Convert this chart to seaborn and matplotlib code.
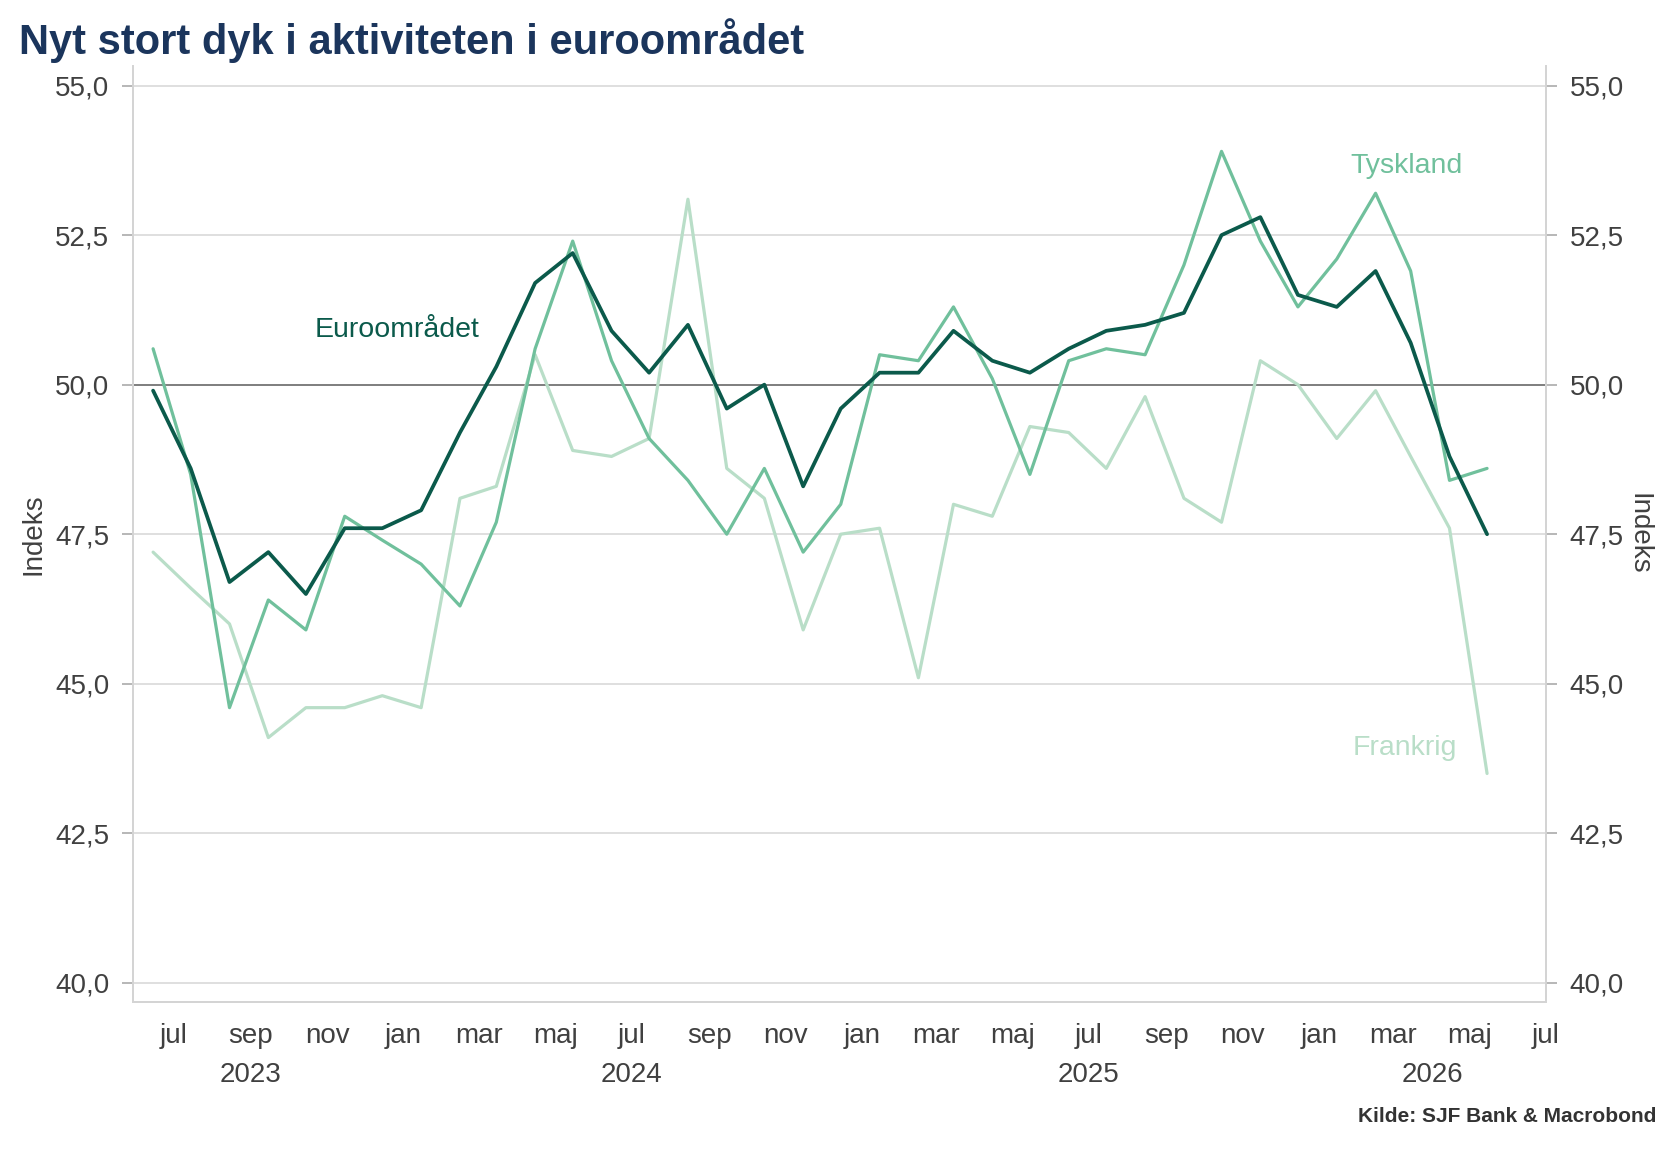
import pandas as pd
import numpy as np
import matplotlib
matplotlib.use("Agg")
import matplotlib.pyplot as plt
import matplotlib.dates as mdates
from matplotlib.ticker import FuncFormatter, FixedLocator
import seaborn as sns

# monthly PMI readings, jun 2023 - maj 2026 (plotted mid-month)
months = pd.date_range("2023-06-01", "2026-05-01", freq="MS") + pd.Timedelta(days=14)

euro = [49.9, 48.6, 46.7, 47.2, 46.5, 47.6, 47.6,
        47.9, 49.2, 50.3, 51.7, 52.2, 50.9, 50.2, 51.0, 49.6, 50.0, 48.3, 49.6,
        50.2, 50.2, 50.9, 50.4, 50.2, 50.6, 50.9, 51.0, 51.2, 52.5, 52.8, 51.5,
        51.3, 51.9, 50.7, 48.8, 47.5]
tyskland = [50.6, 48.5, 44.6, 46.4, 45.9, 47.8, 47.4,
            47.0, 46.3, 47.7, 50.6, 52.4, 50.4, 49.1, 48.4, 47.5, 48.6, 47.2, 48.0,
            50.5, 50.4, 51.3, 50.1, 48.5, 50.4, 50.6, 50.5, 52.0, 53.9, 52.4, 51.3,
            52.1, 53.2, 51.9, 48.4, 48.6]
frankrig = [47.2, 46.6, 46.0, 44.1, 44.6, 44.6, 44.8,
            44.6, 48.1, 48.3, 50.5, 48.9, 48.8, 49.1, 53.1, 48.6, 48.1, 45.9, 47.5,
            47.6, 45.1, 48.0, 47.8, 49.3, 49.2, 48.6, 49.8, 48.1, 47.7, 50.4, 50.0,
            49.1, 49.9, 48.8, 47.6, 43.5]

series_names = ["Euroområdet", "Tyskland", "Frankrig"]
colors = {"Euroområdet": "#0b5a4b", "Tyskland": "#70c09c", "Frankrig": "#b9dec8"}
widths = {"Euroområdet": 2.7, "Tyskland": 2.3, "Frankrig": 2.3}

month_names = {1: "jan", 3: "mar", 5: "maj", 7: "jul", 9: "sep", 11: "nov"}
year_labels = ["2023", "2024", "2025", "2026"]
year_pos = ["2023-09-01", "2024-07-01", "2025-07-01", "2026-04-01"]
yticks = [40.0, 42.5, 45.0, 47.5, 50.0, 52.5, 55.0]

df = pd.DataFrame({"dato": np.tile(months, 3),
                   "værdi": euro + tyskland + frankrig,
                   "serie": np.repeat(series_names, len(months))})

sns.set_style("white")
plt.rcParams["font.family"] = ["Liberation Sans", "DejaVu Sans"]

fig = plt.figure(figsize=(16.8, 11.55), dpi=100)
ax = fig.add_axes([0.0792, 0.1325, 0.841, 0.8105])

for y in yticks:
    ax.axhline(y, color="#dcdcdc", lw=1.3, zorder=0)
ax.axhline(50, color="#7f7f7f", lw=1.4, zorder=1)

# draw lighter series first so the euro line sits on top
for name in ["Frankrig", "Tyskland", "Euroområdet"]:
    sns.lineplot(data=df[df["serie"] == name], x="dato", y="værdi",
                 color=colors[name], lw=widths[name], ax=ax, legend=False,
                 zorder=3)

ax.set_xlim(pd.Timestamp("2023-05-30"), pd.Timestamp("2026-07-01"))
ax.set_ylim(39.68, 55.33)

ax.xaxis.set_major_locator(mdates.MonthLocator(bymonth=[1, 3, 5, 7, 9, 11]))
ax.xaxis.set_major_formatter(FuncFormatter(
    lambda v, p: month_names.get(mdates.num2date(v).month, "")))
ax.xaxis.set_minor_locator(mdates.MonthLocator(bymonth=[1]))
ax.tick_params(axis="x", which="major", length=4, width=1.2, color="#555555",
               labelsize=20, labelcolor="#404040", pad=11)
ax.tick_params(axis="x", which="minor", length=10, width=1.2, color="#555555")

ax.yaxis.set_major_locator(FixedLocator(yticks))
fmt = FuncFormatter(lambda v, p: f"{v:.1f}".replace(".", ","))
ax.yaxis.set_major_formatter(fmt)
ax.tick_params(axis="y", length=8, width=1.2, color="#aaaaaa",
               labelsize=20, labelcolor="#404040", pad=9)
ax.set_xlabel("")
ax.set_ylabel("Indeks", fontsize=20, color="#404040", labelpad=6)

ax2 = ax.twinx()
ax2.set_ylim(ax.get_ylim())
ax2.yaxis.set_major_locator(FixedLocator(yticks))
ax2.yaxis.set_major_formatter(fmt)
ax2.tick_params(axis="y", length=8, width=1.2, color="#aaaaaa",
                labelsize=20, labelcolor="#404040", pad=9)
ax2.set_ylabel("Indeks", fontsize=20, color="#404040", rotation=270,
               labelpad=20)

for a in (ax, ax2):
    a.spines["top"].set_visible(False)
    for s in ("left", "right", "bottom"):
        a.spines[s].set_color("#d4d4d4")
        a.spines[s].set_linewidth(1.3)

trans = ax.get_xaxis_transform()
for lab, pos in zip(year_labels, year_pos):
    ax.text(pd.Timestamp(pos), -0.078, lab, transform=trans, ha="center",
            va="center", fontsize=20, color="#404040")

ax.text(pd.Timestamp("2023-12-27"), 50.91, "Euroområdet", ha="center",
        va="center", fontsize=20.5, color=colors["Euroområdet"])
ax.text(pd.Timestamp("2026-03-12"), 53.66, "Tyskland", ha="center",
        va="center", fontsize=20.5, color=colors["Tyskland"])
ax.text(pd.Timestamp("2026-03-10"), 43.92, "Frankrig", ha="center",
        va="center", fontsize=20.5, color=colors["Frankrig"])

fig.text(0.0113, 1 - 41 / 1155, "Nyt stort dyk i aktiviteten i euroområdet",
         fontsize=30, fontweight="bold", color="#1b355c", va="center", ha="left")
fig.text(0.986, 1 - 1117 / 1155, "Kilde: SJF Bank & Macrobond", fontsize=15,
         fontweight="bold", color="#333333", va="center", ha="right")

fig.savefig("out.png", dpi=100)
